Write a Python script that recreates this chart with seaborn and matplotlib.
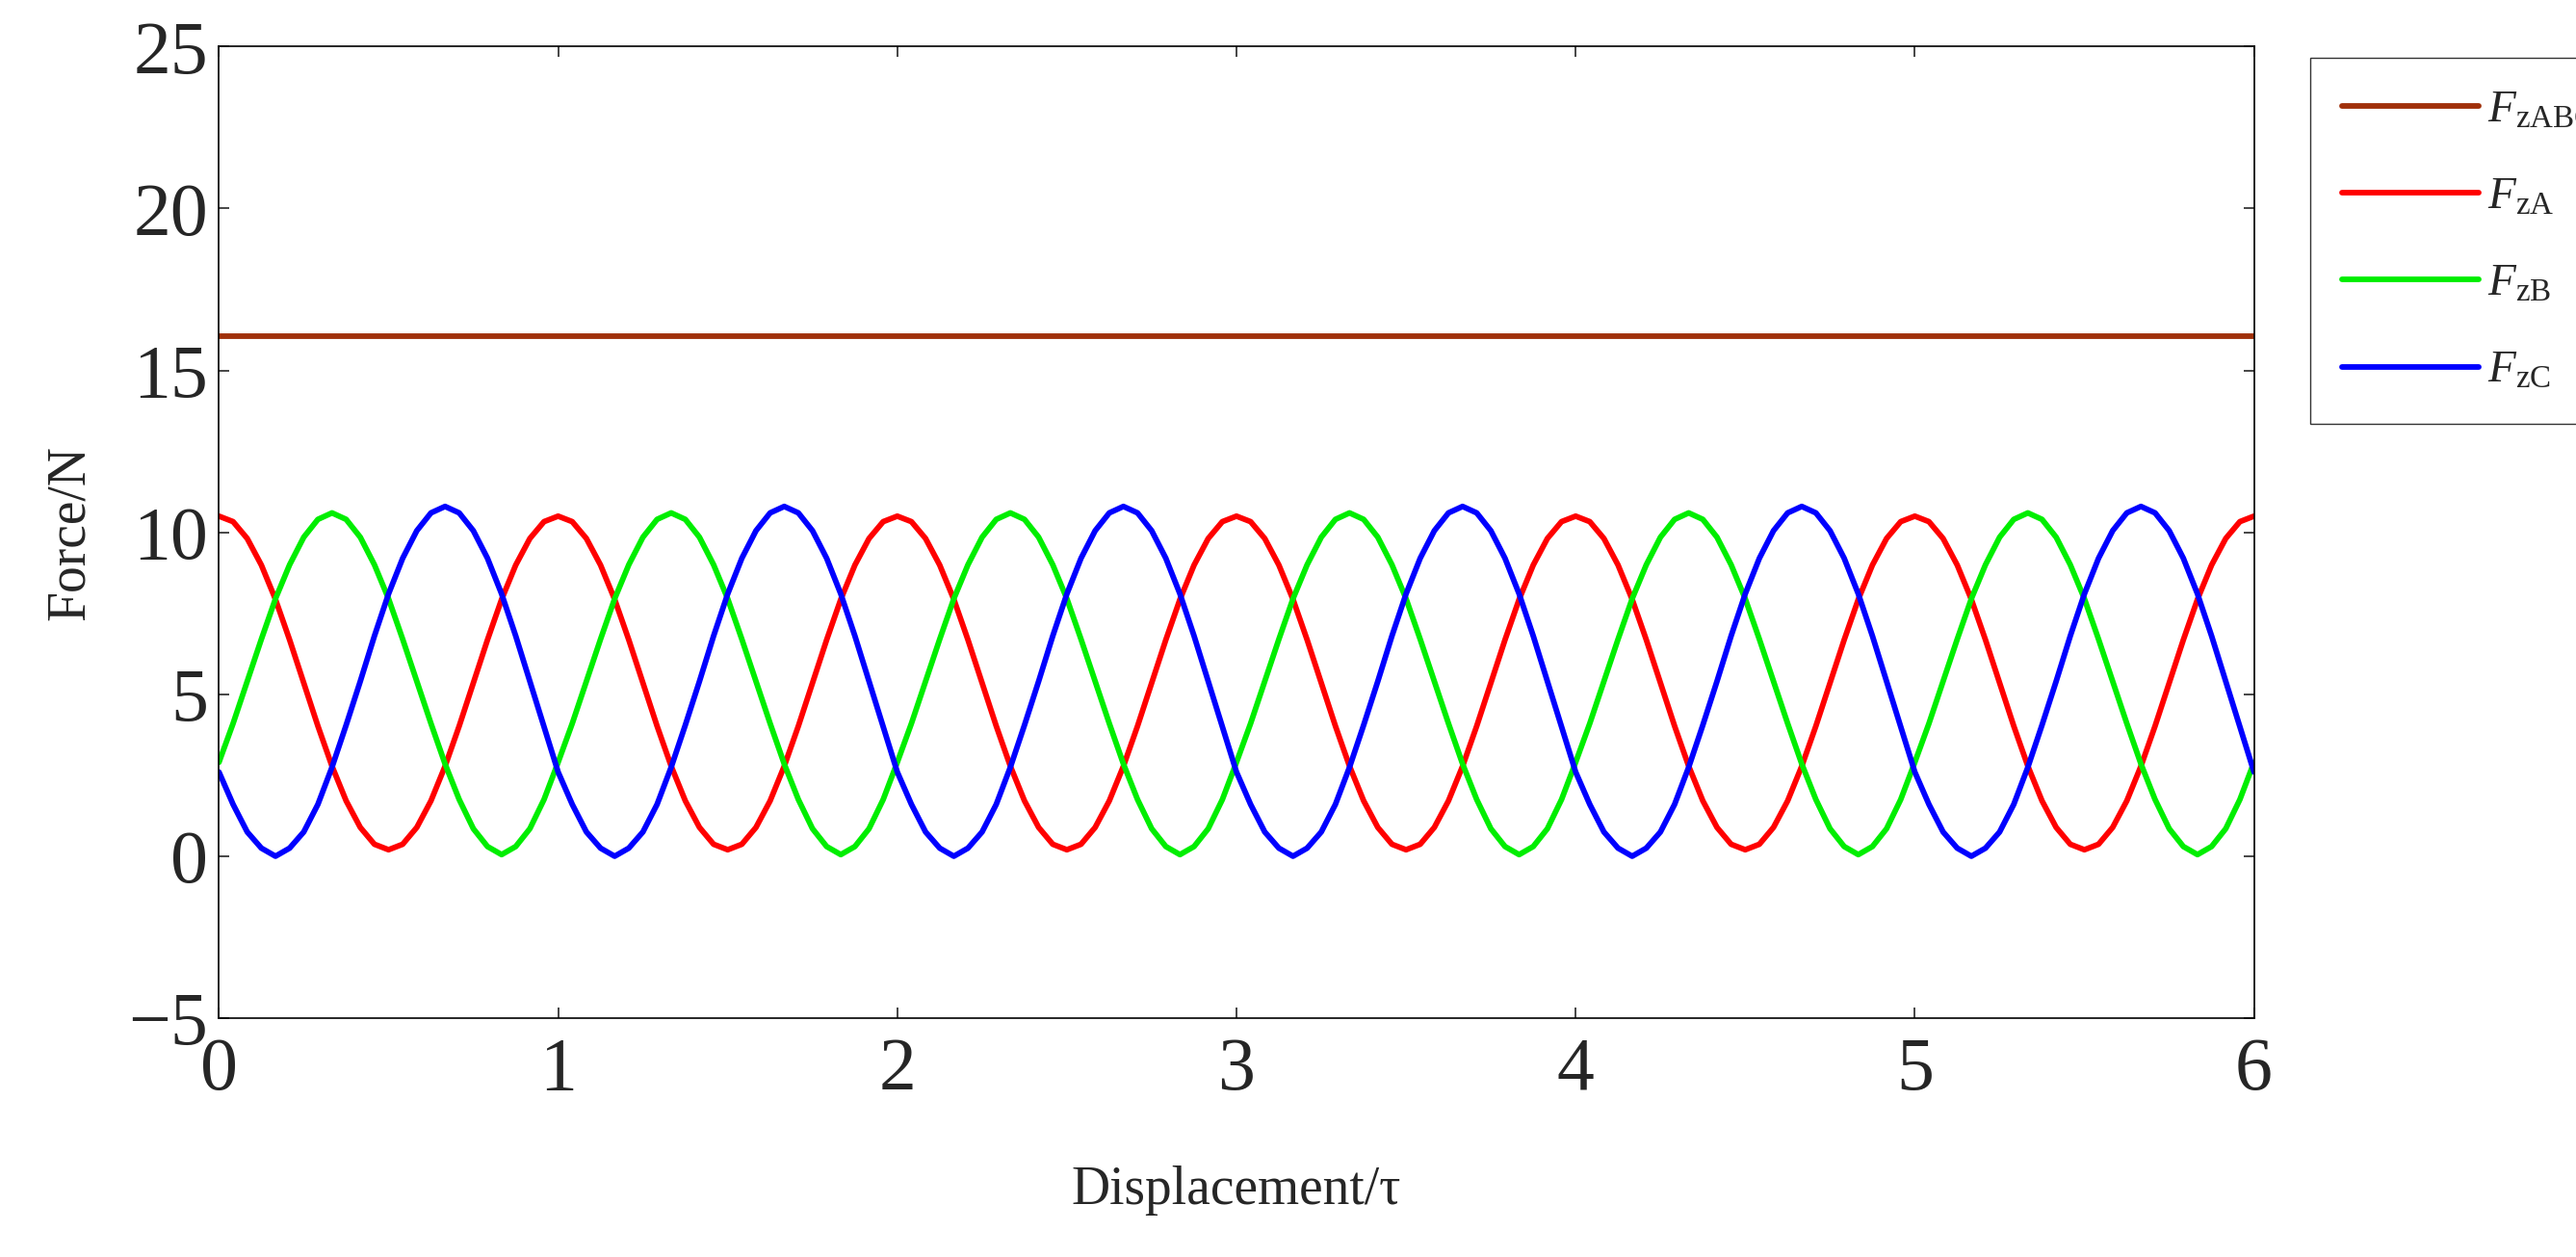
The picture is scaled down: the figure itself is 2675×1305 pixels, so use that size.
import numpy as np
import pandas as pd
import seaborn as sns
import matplotlib.pyplot as plt

# one period (24 samples per tau), repeated for 6 periods
fza_period = [10.5, 10.33, 9.81, 8.99, 7.93, 6.68, 5.35, 4.02, 2.78, 1.71, 0.89, 0.37,
              0.2, 0.37, 0.89, 1.71, 2.78, 4.02, 5.35, 6.68, 7.93, 8.99, 9.81, 10.33]
fzb_period = [2.9, 4.1, 5.4, 6.7, 7.95, 9.0, 9.85, 10.4, 10.6, 10.4, 9.85, 9.0,
              7.95, 6.7, 5.4, 4.1, 2.85, 1.75, 0.85, 0.3, 0.05, 0.3, 0.85, 1.75]
fzc_period = [2.6, 1.6, 0.75, 0.25, 0.0, 0.25, 0.75, 1.6, 2.75, 4.05, 5.4, 6.8,
              8.1, 9.2, 10.05, 10.6, 10.8, 10.6, 10.05, 9.2, 8.1, 6.8, 5.4, 4.0]
fzabc_value = 16.05
n_periods = 6
samples_per_period = 24

x = np.arange(n_periods * samples_per_period + 1) / samples_per_period
fza = fza_period * n_periods + fza_period[:1]
fzb = fzb_period * n_periods + fzb_period[:1]
fzc = fzc_period * n_periods + fzc_period[:1]
fzabc = [fzabc_value] * len(x)

labels = [r'$F_{\mathrm{zABC}}$', r'$F_{\mathrm{zA}}$', r'$F_{\mathrm{zB}}$', r'$F_{\mathrm{zC}}$']
colors = ['#a0300a', '#ff0000', '#00ee00', '#0000ff']

df = pd.concat([pd.DataFrame({'x': x, 'y': s, 'series': lab})
                for s, lab in zip([fzabc, fza, fzb, fzc], labels)])

sns.set_style('white')
plt.rcParams['font.family'] = ['Liberation Serif', 'DejaVu Serif']
plt.rcParams['mathtext.fontset'] = 'custom'
plt.rcParams['mathtext.rm'] = 'Liberation Serif'
plt.rcParams['mathtext.it'] = 'Liberation Serif:italic'

fig = plt.figure(figsize=(26.75, 13.05), dpi=100)
ax = fig.add_axes([0.085, 0.19, 0.79, 0.773])
sns.lineplot(data=df, x='x', y='y', hue='series', palette=colors, linewidth=4.2,
             ax=ax, legend=False)

ax.set_xlim(0, 6)
ax.set_ylim(-5, 25)
ax.set_xticks(range(0, 7))
ax.set_yticks(range(-5, 26, 5))
ax.set_yticklabels(['\u22125'] + [str(v) for v in range(0, 26, 5)])
ax.tick_params(direction='in', length=8, width=1.2, labelsize=56, top=True, right=True,
               bottom=True, left=True)
ax.tick_params(axis='x', pad=14)
ax.tick_params(axis='y', pad=8)
for sp in ax.spines.values():
    sp.set_color('black')
    sp.set_linewidth(1.2)
ax.set_xlabel('Displacement/\u03c4', fontsize=40, labelpad=45)
ax.set_ylabel('Force/N', fontsize=40, labelpad=25)

handles = [plt.Line2D([], [], color=c, lw=4.2) for c in colors]
fig.legend(handles, labels, loc='upper left', bbox_to_anchor=(0.888, 0.972),
           fontsize=34, frameon=True, fancybox=False, edgecolor='black',
           handlelength=3.0, labelspacing=1.0, borderpad=0.7, handletextpad=0.2)

fig.savefig('out.png', dpi=100)
